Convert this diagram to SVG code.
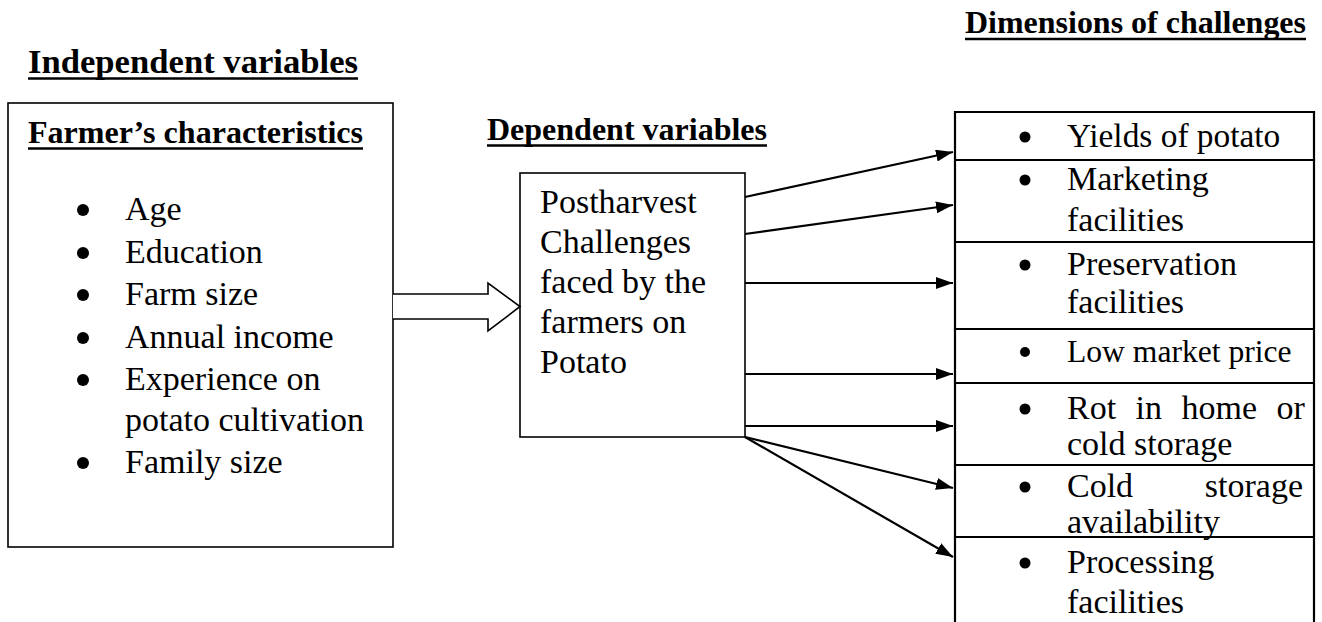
<svg xmlns="http://www.w3.org/2000/svg" width="1322" height="622" viewBox="0 0 1322 622">
<style>
text{font-family:"Liberation Serif","Times New Roman",serif;fill:#000}
.b{font-size:34px}
.h{font-weight:bold}
.box{fill:#fff;stroke:#000;stroke-width:1.6}
.col{fill:none;stroke:#000;stroke-width:2.2}
.ul{stroke:#000;stroke-width:2.5}
.arr{stroke:#000;stroke-width:2.2;fill:none;marker-end:url(#ah)}
</style>
<defs>
<marker id="ah" viewBox="0 0 17 12" refX="17" refY="6" markerWidth="17" markerHeight="12" markerUnits="userSpaceOnUse" orient="auto">
<path d="M0,0 L17,6 L0,12 z" fill="#000"/>
</marker>
</defs>
<rect width="1322" height="622" fill="#fff"/>

<g id="title-dimensions">
<text class="h" x="965" y="33" font-size="32" textLength="341" lengthAdjust="spacingAndGlyphs">Dimensions of challenges</text>
<line class="ul" x1="965" y1="39" x2="1306" y2="39"/>
</g>

<g id="title-independent">
<text class="h" x="28" y="73" font-size="34.7" textLength="330" lengthAdjust="spacingAndGlyphs">Independent variables</text>
<line class="ul" x1="28" y1="78.5" x2="358" y2="78.5"/>
</g>

<g id="title-dependent">
<text class="h" x="487" y="140" font-size="32" textLength="280" lengthAdjust="spacingAndGlyphs">Dependent variables</text>
<line class="ul" x1="487" y1="145.5" x2="767" y2="145.5"/>
</g>

<g id="farmer-characteristics">
<rect class="box" x="8" y="103" width="385" height="444"/>
<text class="h" x="28" y="143" font-size="31.4" textLength="335" lengthAdjust="spacingAndGlyphs">Farmer’s characteristics</text>
<line class="ul" x1="28" y1="148.5" x2="363" y2="148.5"/>
<g class="b">
<circle cx="83" cy="210" r="6"/><text x="125" y="220">Age</text>
<circle cx="83" cy="253" r="6"/><text x="125" y="263">Education</text>
<circle cx="83" cy="295" r="6"/><text x="125" y="305">Farm size</text>
<circle cx="83" cy="338" r="6"/><text x="125" y="348">Annual income</text>
<circle cx="83" cy="380" r="6"/><text x="125" y="390">Experience on</text>
<text x="125" y="431">potato cultivation</text>
<circle cx="83" cy="463" r="6"/><text x="125" y="473">Family size</text>
</g>
</g>

<g id="postharvest-challenges">
<rect class="box" x="520" y="173" width="225" height="264"/>
<g class="b">
<text x="540" y="213">Postharvest</text>
<text x="540" y="253">Challenges</text>
<text x="540" y="293">faced by the</text>
<text x="540" y="333">farmers on</text>
<text x="540" y="373">Potato</text>
</g>
</g>

<g id="dimensions">
<path class="col" d="M955,622 V112 H1314 V622 M955,160 H1314 M955,242 H1314 M955,329 H1314 M955,383 H1314 M955,465 H1314 M955,537 H1314"/>
<g class="b">
<circle cx="1025" cy="137" r="5.5"/><text x="1067" y="147" font-size="33.4">Yields of potato</text>
<circle cx="1025" cy="180" r="5.5"/><text x="1067" y="190">Marketing</text>
<text x="1067" y="231">facilities</text>
<circle cx="1025" cy="265" r="5.5"/><text x="1067" y="275">Preservation</text>
<text x="1067" y="313">facilities</text>
<circle cx="1025" cy="352" r="5"/><text x="1067" y="362" font-size="31.6">Low market price</text>
<circle cx="1025" cy="409" r="5.5"/><text x="1067" y="419" word-spacing="11">Rot in home or</text>
<text x="1067" y="455">cold storage</text>
<circle cx="1025" cy="487" r="5.5"/><text x="1067" y="497">Cold</text><text x="1303" y="497" text-anchor="end">storage</text>
<text x="1067" y="533">availability</text>
<circle cx="1025" cy="563" r="5.5"/><text x="1067" y="573">Processing</text>
<text x="1067" y="613">facilities</text>
</g>
</g>

<g id="connectors">
<path d="M393,294 H488 V283 L520,306.5 L488,331 V319 H393" fill="#fff" stroke="#000" stroke-width="1.6"/>
<line class="arr" x1="745" y1="197" x2="953" y2="152"/>
<line class="arr" x1="745" y1="234" x2="953" y2="205"/>
<line class="arr" x1="745" y1="283" x2="953" y2="283"/>
<line class="arr" x1="745" y1="374" x2="953" y2="374"/>
<line class="arr" x1="745" y1="426" x2="953" y2="426"/>
<line class="arr" x1="745" y1="437" x2="953" y2="488"/>
<line class="arr" x1="745" y1="437" x2="953" y2="557"/>
</g>
</svg>
